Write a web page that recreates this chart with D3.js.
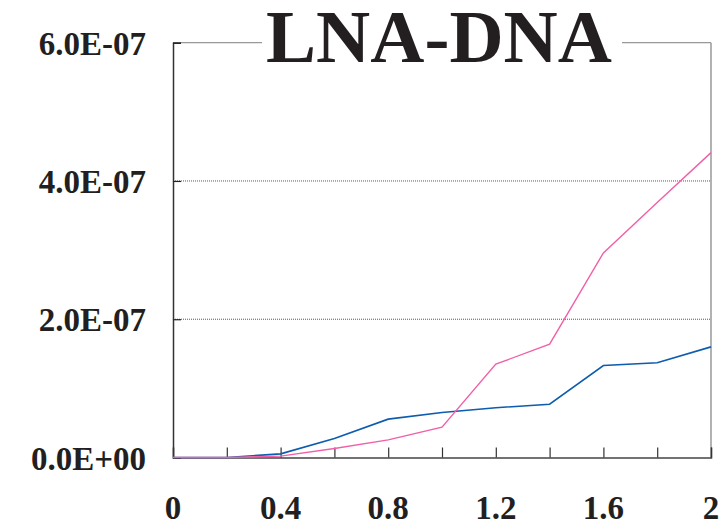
<!DOCTYPE html>
<html>
<head>
<meta charset="utf-8">
<script src="https://cdn.jsdelivr.net/npm/d3@7"></script>
<style>
  body { margin: 0; background: #fff; }
  text { font-family: "Liberation Serif", "Times New Roman", serif; font-weight: bold; fill: #231f20; }
</style>
</head>
<body>
<div id="chart"></div>
<script>
// data
var xValues = [0, 0.2, 0.4, 0.6, 0.8, 1.0, 1.2, 1.4, 1.6, 1.8, 2.0]
var blueValues = [0, 0, 5.3e-9, 2.75e-8, 5.55e-8, 6.5e-8, 7.2e-8, 7.7e-8, 1.33e-7, 1.37e-7, 1.6e-7]
var pinkValues = [0, 0, 2e-9, 1.3e-8, 2.55e-8, 4.4e-8, 1.35e-7, 1.64e-7, 2.96e-7, 3.69e-7, 4.41e-7]
var xTickLabels = [0, 0.4, 0.8, 1.2, 1.6, 2]
var yTickValues = [0, 2e-7, 4e-7, 6e-7]
var titleText = "LNA-DNA"

var width = 724, height = 522
var plot = {left: 173, right: 711, top: 42.7, bottom: 457.5}

var svg = d3.select("#chart").append("svg")
    .attr("width", width)
    .attr("height", height)

var xScale = d3.scaleLinear().domain([0, 2]).range([plot.left, plot.right])
var yScale = d3.scaleLinear().domain([0, 6e-7]).range([plot.bottom, plot.top])

function fmtY(v) {
  if (v == 0) return "0.0E+00"
  var e = Math.floor(Math.log10(v) + 1e-9)
  var m = v / Math.pow(10, e)
  var sign = e < 0 ? "-" : "+"
  var ex = Math.abs(e)
  return m.toFixed(1) + "E" + sign + (ex < 10 ? "0" + ex : ex)
}

// dotted gridlines
svg.selectAll(".grid")
    .data(yTickValues.filter(function(d) { return d > 0 && d < 6e-7 }))
    .enter().append("line")
    .attr("x1", plot.left).attr("x2", plot.right)
    .attr("y1", function(d) { return yScale(d) })
    .attr("y2", function(d) { return yScale(d) })
    .attr("stroke", "#555")
    .attr("stroke-width", 1)
    .attr("stroke-dasharray", "1,1")

// frame: top and right in grey
svg.append("line")
    .attr("x1", plot.left).attr("x2", plot.right)
    .attr("y1", plot.top).attr("y2", plot.top)
    .attr("stroke", "#999").attr("stroke-width", 1.2)
svg.append("line")
    .attr("x1", plot.right).attr("x2", plot.right)
    .attr("y1", plot.top).attr("y2", plot.bottom)
    .attr("stroke", "#999").attr("stroke-width", 1.5)

// x axis, ticks pointing inward
var xAxis = d3.axisTop(xScale)
    .tickValues(xValues)
    .tickSize(10)
    .tickFormat("")
var gx = svg.append("g")
    .attr("transform", "translate(0," + plot.bottom + ")")
    .call(xAxis)
gx.select(".domain").attr("stroke", "#444").attr("stroke-width", 1.5)
gx.selectAll(".tick line").attr("stroke", "#333").attr("stroke-width", 1.2)

svg.selectAll(".xlabel")
    .data(xTickLabels)
    .enter().append("text")
    .attr("x", function(d) { return xScale(d) })
    .attr("y", 519)
    .attr("text-anchor", "middle")
    .style("font-size", "33px")
    .text(function(d) { return d })

// y axis, ticks pointing inward
var yAxis = d3.axisRight(yScale)
    .tickValues(yTickValues)
    .tickSize(8)
    .tickFormat("")
var gy = svg.append("g")
    .attr("transform", "translate(" + plot.left + ",0)")
    .call(yAxis)
gy.select(".domain").attr("stroke", "#333").attr("stroke-width", 1.5)
gy.selectAll(".tick line").attr("stroke", "#222").attr("stroke-width", 1.2)

svg.selectAll(".ylabel")
    .data(yTickValues)
    .enter().append("text")
    .attr("x", 146)
    .attr("y", function(d) { return yScale(d) })
    .attr("dy", "0.37em")
    .attr("text-anchor", "end")
    .style("font-size", "33px")
    .text(function(d) { return fmtY(d) })

// series lines
var line = d3.line()
    .x(function(d, i) { return xScale(xValues[i]) })
    .y(function(d) { return yScale(d) })

svg.append("path")
    .datum(blueValues)
    .attr("d", line)
    .attr("fill", "none")
    .attr("stroke", "#0d5cae")
    .attr("stroke-width", 1.6)

svg.append("path")
    .datum(pinkValues)
    .attr("d", line)
    .attr("fill", "none")
    .attr("stroke", "#f060a8")
    .attr("stroke-width", 1.4)

// title sitting on the top border
svg.append("rect")
    .attr("x", 262).attr("y", 5)
    .attr("width", 360).attr("height", 60)
    .attr("fill", "#fff")

svg.append("text")
    .attr("x", 439)
    .attr("y", 62)
    .attr("text-anchor", "middle")
    .style("font-size", "75px")
    .text(titleText)
</script>
</body>
</html>
